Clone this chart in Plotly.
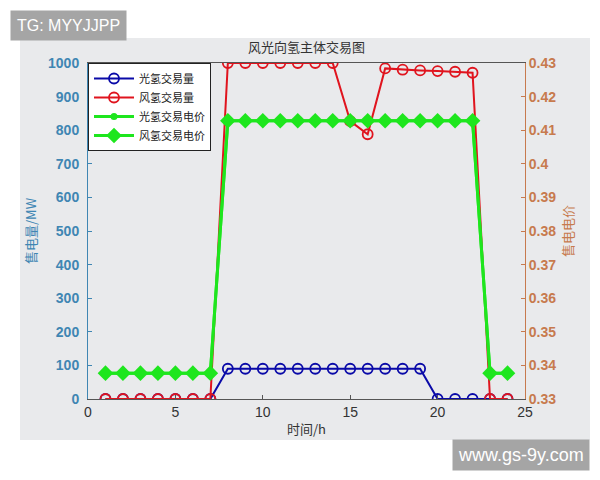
import plotly.graph_objects as go

# hours and values
hours = list(range(1, 25))
pv_h2_volume = [0] * 7 + [90] * 12 + [0] * 5
wind_h2_volume = [0] * 7 + [1000] * 7 + [827, 788, 984, 980, 978, 976, 974, 971, 0, 0]
pv_h2_price = [0.3377] * 7 + [0.4128] * 15 + [0.3377] * 2
wind_h2_price = [0.3377] * 7 + [0.4128] * 15 + [0.3377] * 2

left_ticks = list(range(0, 1001, 100))
right_ticks = [round(0.33 + 0.01 * i, 2) for i in range(11)]
right_labels = ["0.33", "0.34", "0.35", "0.36", "0.37", "0.38", "0.39", "0.4", "0.41", "0.42", "0.43"]

BLUE_AX = "#3f86b3"
ORANGE_AX = "#c77a4e"
CJK = "Noto Sans CJK SC"

fig = go.Figure()

fig.add_trace(go.Scatter(
    x=hours, y=pv_h2_volume, name="光氢交易量", mode="lines+markers",
    line=dict(color="#0a0aa8", width=2),
    marker=dict(symbol="circle-open", size=10, color="#0a0aa8", line=dict(width=1.8)),
))
fig.add_trace(go.Scatter(
    x=hours, y=wind_h2_volume, name="风氢交易量", mode="lines+markers",
    line=dict(color="#e0141e", width=2),
    marker=dict(symbol="circle-open", size=10, color="#e0141e", line=dict(width=1.8)),
))
fig.add_trace(go.Scatter(
    x=hours, y=pv_h2_price, name="光氢交易电价", mode="lines+markers", yaxis="y2",
    line=dict(color="#1ee61e", width=3),
    marker=dict(symbol="circle", size=7, color="#1ee61e"),
))
fig.add_trace(go.Scatter(
    x=hours, y=wind_h2_price, name="风氢交易电价", mode="lines+markers", yaxis="y2",
    line=dict(color="#1ee61e", width=3),
    marker=dict(symbol="diamond", size=12, color="#1ee61e"),
))

# the page body adds an 8px offset, so margins are shifted accordingly
fig.update_layout(
    width=600, height=480,
    margin=dict(l=80, r=83, t=55, b=89),
    paper_bgcolor="white",
    plot_bgcolor="#fafafa",
    font=dict(family="Liberation Sans, Arial", size=13, color="#333333"),
    title=dict(text="风光向氢主体交易图", x=0.5, xanchor="center", xref="paper",
               y=0.917, yanchor="middle",
               font=dict(family=CJK, size=13, color="#333333")),
    showlegend=True,
    legend=dict(x=0.0, y=1.0, xanchor="left", yanchor="top", bgcolor="white",
                bordercolor="#222222", borderwidth=1, font=dict(family=CJK, size=11, color="#222222"),
                itemwidth=40, tracegroupgap=0),
    xaxis=dict(range=[0, 25], tickvals=[0, 5, 10, 15, 20, 25], showgrid=False, zeroline=False,
               showline=True, linecolor="#555555", mirror=True, ticks="inside", ticklen=4,
               tickcolor="#555555", tickfont=dict(size=14, color="#333333"),
               title=dict(text="时间/h", font=dict(family=CJK, size=13, color="#333333"), standoff=6)),
    yaxis=dict(range=[0, 1000], tickvals=left_ticks, showgrid=False, zeroline=False,
               showline=True, linecolor=BLUE_AX, ticks="inside", ticklen=4, tickcolor=BLUE_AX,
               tickfont=dict(size=14, color=BLUE_AX, weight=600), ticklabelstandoff=5,
               title=dict(text="售电量/MW", font=dict(family=CJK, size=13, color=BLUE_AX), standoff=8)),
    yaxis2=dict(range=[0.33, 0.43], tickvals=right_ticks, ticktext=right_labels, overlaying="y",
                side="right", showgrid=False, zeroline=False, showline=True, linecolor=ORANGE_AX,
                ticks="inside", ticklen=4, tickcolor=ORANGE_AX,
                tickfont=dict(size=14, color=ORANGE_AX, weight=600),
                title=dict(text="售电电价", font=dict(family=CJK, size=13, color=ORANGE_AX), standoff=8)),
    shapes=[
        dict(type="rect", xref="paper", yref="paper", x0=-0.1556, x1=1.1487, y0=-0.122, y1=1.0744,
             fillcolor="#e9eaec", line=dict(width=0), layer="below"),
    ],
    annotations=[
        dict(text="TG: MYYJJPP", xref="paper", yref="paper", x=-0.1785, y=1.113, xanchor="left",
             yanchor="middle", showarrow=False, bgcolor="#a5a5a5", borderpad=6,
             font=dict(family="Liberation Sans, Arial", size=16, color="white")),
        dict(text="www.gs-9y.com", xref="paper", yref="paper", x=1.1487, y=-0.1667, xanchor="right",
             yanchor="middle", showarrow=False, bgcolor="#a5a5a5", borderpad=5,
             font=dict(family="Liberation Sans, Arial", size=18, color="white")),
    ],
)

fig.write_html("out.html")
